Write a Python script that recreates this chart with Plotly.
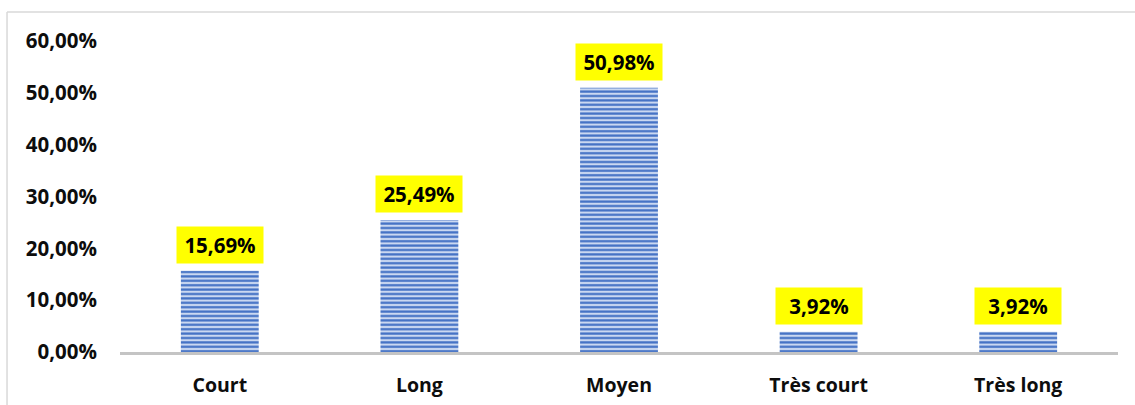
import plotly.graph_objects as go

categories = ["Court", "Long", "Moyen", "Très court", "Très long"]
shares = [15.69, 25.49, 50.98, 3.92, 3.92]
tick_values = [0, 10, 20, 30, 40, 50, 60]
tick_labels = ["0,00%", "10,00%", "20,00%", "30,00%", "40,00%", "50,00%", "60,00%"]
value_labels = ["15,69%", "25,49%", "50,98%", "3,92%", "3,92%"]

FONT = "Open Sans"
TEXT = "#0D0D0D"

fig = go.Figure(
    go.Bar(
        x=categories,
        y=shares,
        marker=dict(
            color="#4270C4",
            line=dict(width=0),
            pattern=dict(
                shape="-",
                fillmode="replace",
                fgcolor="#4270C4",
                bgcolor="#CAD8F1",
                size=4.4,
                solidity=0.5,
            ),
        ),
        hoverinfo="skip",
    )
)

# yellow value boxes above each bar
for cat, val, lab in zip(categories, shares, value_labels):
    fig.add_annotation(
        x=cat,
        y=val,
        text=f"<b>{lab}</b>",
        showarrow=False,
        yanchor="bottom",
        yshift=7,
        bgcolor="#FFFF00",
        borderpad=4,
        width=78,
        font=dict(family=FONT, size=20.5, color="#000000"),
    )

# light frame along the left and top edges
fig.add_shape(type="line", xref="paper", yref="paper",
              x0=-0.1132, x1=-0.1132, y0=-0.2, y1=1.093,
              line=dict(color="#D9D9D9", width=1.5))
fig.add_shape(type="line", xref="paper", yref="paper",
              x0=-0.1132, x1=1.02, y0=1.093, y1=1.093,
              line=dict(color="#D9D9D9", width=1.5))

fig.update_layout(
    width=1135,
    height=405,
    margin=dict(l=120, r=17, t=41, b=53),
    paper_bgcolor="white",
    plot_bgcolor="white",
    bargap=0.61,
    showlegend=False,
    font=dict(family=FONT, color=TEXT),
)

fig.update_xaxes(
    automargin=False,
    showline=True,
    linecolor="#C4C4C4",
    linewidth=3,
    showgrid=False,
    ticks="",
    tickfont=dict(family=FONT, size=19.5, color=TEXT),
    ticklabelstandoff=14,
    tickprefix="<b>",
    ticksuffix="</b>",
)

fig.update_yaxes(
    automargin=False,
    range=[0, 60],
    tickvals=tick_values,
    ticktext=[f"<b>{t}</b>" for t in tick_labels],
    showgrid=False,
    zeroline=False,
    showline=False,
    ticks="",
    tickfont=dict(family=FONT, size=20.5, color=TEXT),
    ticklabelstandoff=22,
)

fig.write_html("out.html")
